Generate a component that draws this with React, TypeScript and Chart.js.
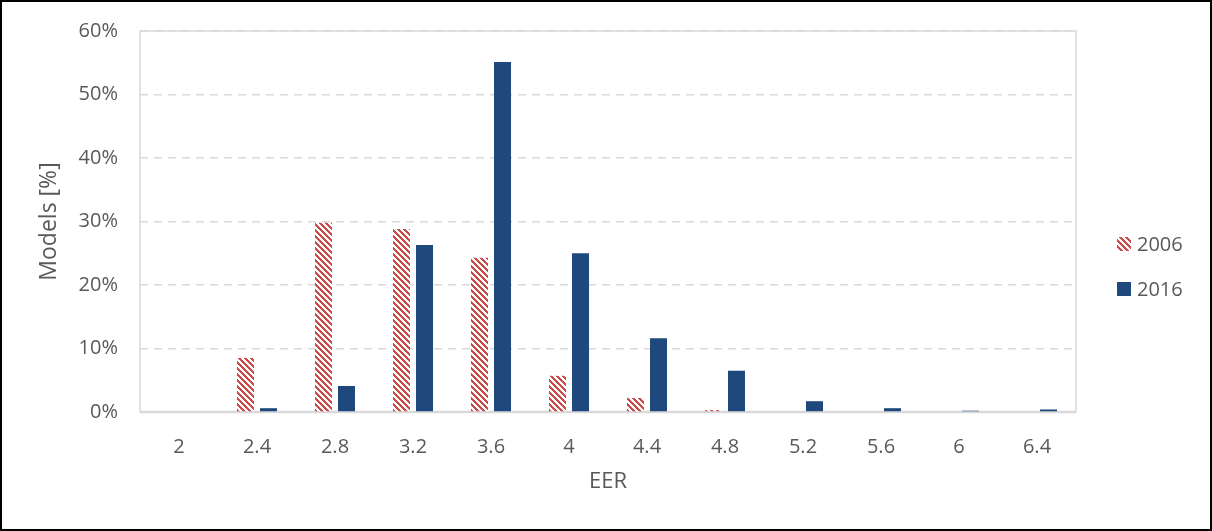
import React, { useEffect, useRef } from "react";
import { Chart, registerables } from "chart.js";

Chart.register(...registerables);

const categories = ["2", "2.4", "2.8", "3.2", "3.6", "4", "4.4", "4.8", "5.2", "5.6", "6", "6.4"];
const series2006 = [0, 8.5, 29.8, 28.8, 24.3, 5.7, 2.2, 0.3, 0, 0, 0, 0];
const series2016 = [0, 0.6, 4.1, 26.3, 55.1, 25.0, 11.6, 6.5, 1.7, 0.6, 0.2, 0.4];
const seriesNames = ["2006", "2016"];
const yTicks = { min: 0, max: 60, step: 10 };

const RED: [number, number, number] = [204, 76, 74];
const RED_CSS = "rgb(204,76,74)";
const BLUE = "#1F497D";
const TEXT = "#595959";
const GRID = "#D9D9D9";
const FONT = "'Open Sans', sans-serif";

function makeHatch(): CanvasPattern | string {
  const s = 6;
  const w = 3;
  const c = document.createElement("canvas");
  c.width = s;
  c.height = s;
  const g = c.getContext("2d");
  if (!g) return RED_CSS;
  const img = g.createImageData(s, s);
  for (let y = 0; y < s; y++) {
    for (let x = 0; x < s; x++) {
      const i = (y * s + x) * 4;
      const on = (((x - y) % s) + s) % s < w;
      img.data[i] = on ? RED[0] : 255;
      img.data[i + 1] = on ? RED[1] : 255;
      img.data[i + 2] = on ? RED[2] : 255;
      img.data[i + 3] = 255;
    }
  }
  g.putImageData(img, 0, 0);
  const p = g.createPattern(c, "repeat");
  return p || RED_CSS;
}

export default function App() {
  const ref = useRef<HTMLCanvasElement | null>(null);

  useEffect(() => {
    document.body.style.margin = "0";
    const canvas = ref.current;
    if (!canvas) return;
    const hatch = makeHatch();

    const borderPlugin = {
      id: "plotBorder",
      beforeDatasetsDraw(chart: any) {
        const { ctx, chartArea } = chart;
        ctx.save();
        ctx.strokeStyle = GRID;
        ctx.lineWidth = 1.5;
        ctx.strokeRect(chartArea.left, chartArea.top, chartArea.right - chartArea.left, chartArea.bottom - chartArea.top);
        ctx.lineWidth = 2.5;
        ctx.beginPath();
        ctx.moveTo(chartArea.left, chartArea.bottom);
        ctx.lineTo(chartArea.right, chartArea.bottom);
        ctx.stroke();
        ctx.restore();
      },
    };

    const legendPlugin = {
      id: "customLegend",
      afterDraw(chart: any) {
        const { ctx } = chart;
        const fills = [hatch, BLUE];
        const x = 1115;
        const ys = [242, 287];
        ctx.save();
        ctx.font = `20px ${FONT}`;
        ctx.textBaseline = "middle";
        ctx.textAlign = "left";
        seriesNames.forEach((name, i) => {
          ctx.fillStyle = fills[i] as any;
          ctx.fillRect(x, ys[i] - 7, 14, 14);
          ctx.fillStyle = TEXT;
          ctx.fillText(name, x + 20, ys[i] + 1);
        });
        ctx.restore();
      },
    };

    const chart = new Chart(canvas, {
      type: "bar",
      data: {
        labels: categories,
        datasets: [
          {
            label: seriesNames[0],
            data: series2006,
            backgroundColor: hatch as any,
            borderWidth: 0,
            categoryPercentage: 0.59,
            barPercentage: 0.74,
          },
          {
            label: seriesNames[1],
            data: series2016,
            backgroundColor: BLUE,
            borderWidth: 0,
            categoryPercentage: 0.59,
            barPercentage: 0.74,
          },
        ],
      },
      options: {
        animation: false,
        responsive: false,
        devicePixelRatio: 1,
        layout: { padding: { left: 0, top: 29, right: 134, bottom: 0 } },
        plugins: {
          legend: { display: false },
          tooltip: { enabled: false },
        },
        scales: {
          x: {
            grid: { display: false },
            border: { display: false },
            ticks: {
              color: TEXT,
              font: { family: FONT, size: 20 },
              padding: 15,
              maxRotation: 0,
            },
            title: {
              display: true,
              text: "EER",
              color: TEXT,
              font: { family: FONT, size: 22 },
              padding: { top: 0, bottom: 34 },
            },
            afterFit(scale: any) {
              scale.height = 117;
              scale.paddingLeft = 0;
              scale.paddingRight = 0;
            },
          },
          y: {
            min: yTicks.min,
            max: yTicks.max,
            ticks: {
              stepSize: yTicks.step,
              color: TEXT,
              font: { family: FONT, size: 20 },
              padding: 22,
              callback: (v: any) => `${v}%`,
            },
            grid: { color: GRID, lineWidth: 1.5, drawTicks: false },
            border: { display: false, dash: [8, 6] },
            title: {
              display: true,
              text: "Models [%]",
              color: TEXT,
              font: { family: FONT, size: 23 },
              padding: { top: 34, bottom: 0 },
            },
            afterFit(scale: any) {
              scale.width = 138;
              scale.paddingTop = 0;
              scale.paddingBottom = 0;
            },
          },
        },
      },
      plugins: [borderPlugin, legendPlugin],
    });

    return () => chart.destroy();
  }, []);

  return (
    <div
      style={{
        width: 1212,
        height: 531,
        boxSizing: "border-box",
        border: "2px solid #000",
        background: "#fff",
        position: "relative",
      }}
    >
      <canvas ref={ref} width={1208} height={527} style={{ display: "block", width: 1208, height: 527 }} />
    </div>
  );
}
